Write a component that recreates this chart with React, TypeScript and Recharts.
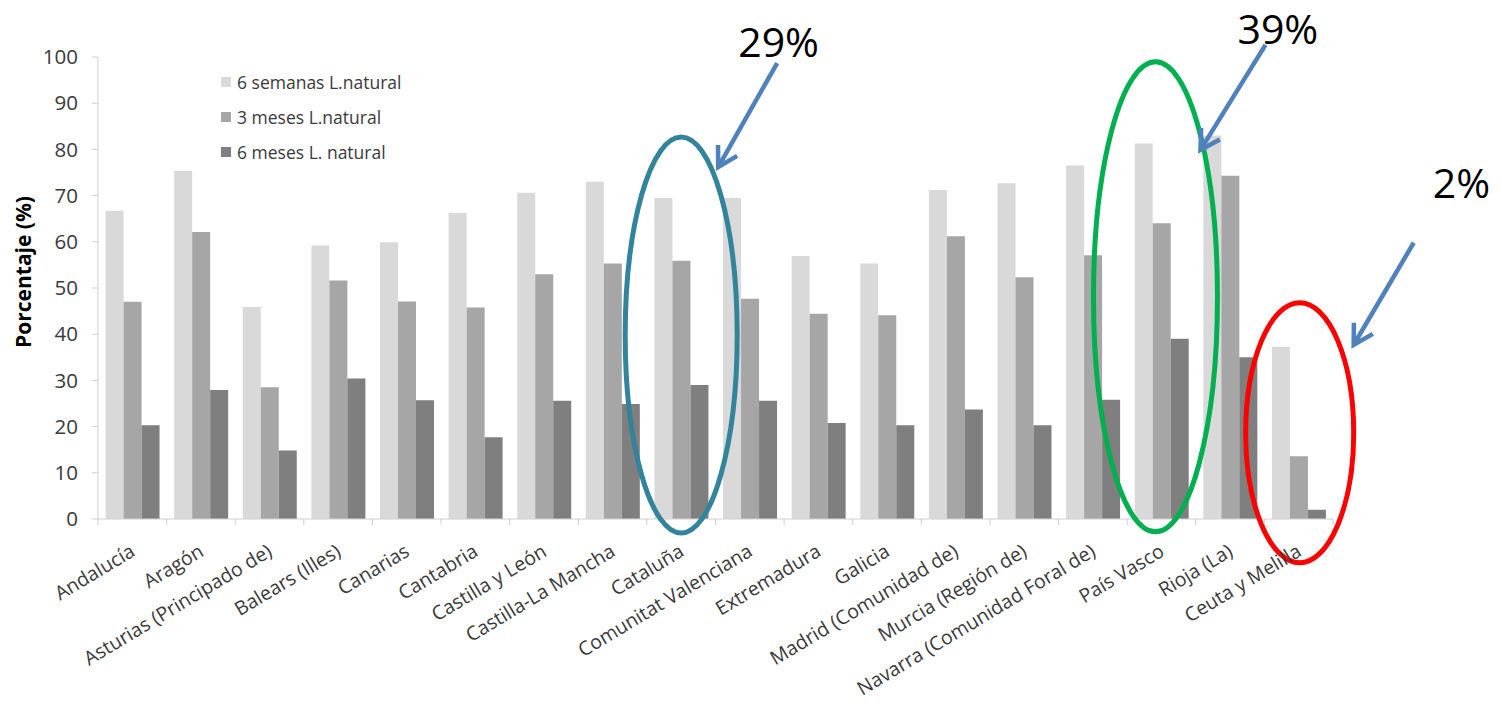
import { BarChart, Bar, XAxis, YAxis, Legend, ReferenceDot, Label } from 'recharts';

const regions = [
  'Andalucía',
  'Aragón',
  'Asturias (Principado de)',
  'Balears (Illes)',
  'Canarias',
  'Cantabria',
  'Castilla y León',
  'Castilla-La Mancha',
  'Cataluña',
  'Comunitat Valenciana',
  'Extremadura',
  'Galicia',
  'Madrid (Comunidad de)',
  'Murcia (Región de)',
  'Navarra (Comunidad Foral de)',
  'País Vasco',
  'Rioja (La)',
  'Ceuta y Melilla',
];

const semanas6 = [66.7, 75.4, 45.9, 59.2, 59.9, 66.3, 70.6, 73.0, 69.5, 69.5, 56.9, 55.3, 71.2, 72.7, 76.5, 81.3, 83.0, 37.3];
const meses3 = [47.0, 62.1, 28.5, 51.6, 47.1, 45.8, 53.0, 55.3, 55.9, 47.7, 44.4, 44.1, 61.2, 52.3, 57.1, 64.0, 74.3, 13.6];
const meses6 = [20.3, 27.9, 14.8, 30.4, 25.7, 17.7, 25.6, 24.9, 29, 25.6, 20.8, 20.3, 23.7, 20.3, 25.8, 39, 35.0, 2];

const yTicks = [0, 10, 20, 30, 40, 50, 60, 70, 80, 90, 100];

const series = [
  { key: 'semanas6', name: '6 semanas L.natural', color: '#d9d9d9' },
  { key: 'meses3', name: '3 meses L.natural', color: '#a6a6a6' },
  { key: 'meses6', name: '6 meses L. natural', color: '#7f7f7f' },
];

const data = regions.map((region, i) => ({
  region,
  semanas6: semanas6[i],
  meses3: meses3[i],
  meses6: meses6[i],
}));

const WIDTH = 1502;
const HEIGHT = 707;
const MARGIN = { top: 57, right: 169, bottom: 0, left: 0 };
const Y_AXIS_WIDTH = 98;
const BAND_HALF = (WIDTH - MARGIN.left - MARGIN.right - Y_AXIS_WIDTH) / regions.length / 2;

const FONT = '"Open Sans", "Liberation Sans", sans-serif';
const TEXT = '#3a3a3a';
const AXIS = '#d0d0d0';
const ARROW = '#4f81bd';

// callouts around the "6 meses" bar of a few regions; offsets are in px from that bar's top
const callouts = [
  {
    region: 'Cataluña',
    color: '#31849b',
    ellipse: { dx: 0, dy: -50, rx: 56, ry: 198 },
    arrow: { x1: 96, y1: -322, x2: 37, y2: -218 },
    text: { dx: 57, dy: -328 },
  },
  {
    region: 'País Vasco',
    color: '#00b050',
    ellipse: { dx: -6, dy: -42, rx: 62, ry: 235 },
    arrow: { x1: 104, y1: -294, x2: 39, y2: -189 },
    text: { dx: 76, dy: -295 },
  },
  {
    region: 'Ceuta y Melilla',
    color: '#ff0000',
    ellipse: { dx: 1, dy: -77, rx: 54, ry: 130 },
    arrow: { x1: 115, y1: -267, x2: 55, y2: -165 },
    text: { dx: 134, dy: -312 },
  },
];

function Arrow({ x1, y1, x2, y2 }: { x1: number; y1: number; x2: number; y2: number }) {
  const ang = Math.atan2(y1 - y2, x1 - x2);
  const len = 22;
  const spread = Math.PI / 6;
  const a = { x: x2 + len * Math.cos(ang - spread), y: y2 + len * Math.sin(ang - spread) };
  const b = { x: x2 + len * Math.cos(ang + spread), y: y2 + len * Math.sin(ang + spread) };
  return (
    <g stroke={ARROW} strokeWidth={4.5} fill="none" strokeLinecap="butt" strokeLinejoin="miter">
      <line x1={x1} y1={y1} x2={x2} y2={y2} />
      <polyline points={`${a.x},${a.y} ${x2},${y2} ${b.x},${b.y}`} />
    </g>
  );
}

function makeCallout(c: (typeof callouts)[number], value: number) {
  return (props: any) => {
    const { cx, cy } = props;
    if (cx == null || cy == null) return <g />;
    return (
      <g>
        <ellipse
          cx={cx + c.ellipse.dx}
          cy={cy + c.ellipse.dy}
          rx={c.ellipse.rx}
          ry={c.ellipse.ry}
          fill="none"
          stroke={c.color}
          strokeWidth={5}
        />
        <Arrow x1={cx + c.arrow.x1} y1={cy + c.arrow.y1} x2={cx + c.arrow.x2} y2={cy + c.arrow.y2} />
        <text x={cx + c.text.dx} y={cy + c.text.dy} fontSize={41} fontFamily={FONT} fill="#000">
          {`${value}%`}
        </text>
      </g>
    );
  };
}

function RegionTick(props: any) {
  const { x, y, payload, index } = props;
  const half = payload?.offset || BAND_HALF;
  return (
    <g>
      <line x1={x - half} x2={x - half} y1={y} y2={y + 6} stroke={AXIS} />
      {index === regions.length - 1 && <line x1={x + half} x2={x + half} y1={y} y2={y + 6} stroke={AXIS} />}
      <text
        transform={`translate(${x + 4},${y + 36}) rotate(-31)`}
        textAnchor="end"
        fontSize={19.5}
        fontFamily={FONT}
        fill={TEXT}
      >
        {payload.value}
      </text>
    </g>
  );
}

function YTitle(props: any) {
  const vb = props.viewBox || { x: 0, y: MARGIN.top, width: Y_AXIS_WIDTH, height: 462 };
  const x = vb.x + 23;
  const y = vb.y + vb.height / 2 - 16;
  return (
    <text
      x={x}
      y={y}
      transform={`rotate(-90, ${x}, ${y})`}
      textAnchor="middle"
      dominantBaseline="central"
      fontSize={21}
      fontWeight="bold"
      fontFamily={FONT}
      fill="#000"
    >
      Porcentaje (%)
    </text>
  );
}

function SeriesLegend() {
  return (
    <div style={{ fontFamily: FONT, fontSize: 17.5, color: TEXT }}>
      {series.map((s) => (
        <div key={s.key} style={{ display: 'flex', alignItems: 'center', height: 35 }}>
          <span style={{ width: 10, height: 10, background: s.color, marginRight: 6, display: 'inline-block' }} />
          <span>{s.name}</span>
        </div>
      ))}
    </div>
  );
}

export default function App() {
  return (
    <div style={{ position: 'absolute', left: 0, top: 0, width: WIDTH, height: HEIGHT, background: '#fff' }}>
      <BarChart
        width={WIDTH}
        height={HEIGHT}
        data={data}
        margin={MARGIN}
        barCategoryGap="11%"
        barGap={0}
      >
        <XAxis
          dataKey="region"
          interval={0}
          height={HEIGHT - 519}
          tickLine={false}
          tickSize={0}
          tickMargin={0}
          axisLine={{ stroke: AXIS }}
          tick={<RegionTick />}
        />
        <YAxis
          width={Y_AXIS_WIDTH}
          domain={[0, 100]}
          ticks={yTicks}
          interval={0}
          tickSize={6}
          tickMargin={14}
          axisLine={{ stroke: AXIS }}
          tickLine={{ stroke: AXIS }}
          tick={{ fontSize: 20.5, fill: TEXT, fontFamily: FONT }}
        >
          <Label content={<YTitle />} />
        </YAxis>
        <Legend
          layout="vertical"
          align="center"
          verticalAlign="middle"
          wrapperStyle={{ left: 221, top: 64, width: 240 }}
          content={<SeriesLegend />}
        />
        {series.map((s) => (
          <Bar key={s.key} dataKey={s.key} name={s.name} fill={s.color} isAnimationActive={false} />
        ))}
        {callouts.map((c) => {
          const v = meses6[regions.indexOf(c.region)];
          return (
            <ReferenceDot
              key={c.region}
              x={c.region}
              y={v}
              r={0}
              ifOverflow="visible"
              shape={makeCallout(c, v)}
            />
          );
        })}
      </BarChart>
    </div>
  );
}
